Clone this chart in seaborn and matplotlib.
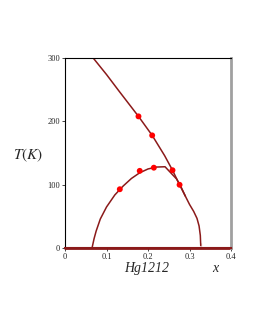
import pandas as pd
import seaborn as sns
import matplotlib.pyplot as plt

# measured points (Hg1212)
pts_x = [0.132, 0.177, 0.180, 0.210, 0.214, 0.259, 0.276]
pts_T = [93, 208, 122, 178, 127, 123, 100]

# upper line
upper_x = [0.068, 0.10, 0.13, 0.177, 0.21, 0.24, 0.259, 0.276, 0.29]
upper_T = [300, 274, 248, 208, 178, 146, 123, 100, 82]

# superconducting dome
dome_x = [0.065, 0.070, 0.075, 0.085, 0.10, 0.12, 0.14, 0.16, 0.18, 0.20, 0.22, 0.241,
          0.269, 0.28, 0.29, 0.30, 0.31, 0.318, 0.323, 0.326, 0.327, 0.327]
dome_T = [0, 15, 27, 46, 65, 84, 98, 110, 119, 125, 128, 128.5,
          109, 96, 82, 69, 58, 47, 35, 20, 8, 0]

# baseline T = 0
base_x = [0.0, 0.4]
base_T = [0, 0]

sns.set_style('white')
plt.rcParams['font.family'] = ['Liberation Serif', 'DejaVu Serif']
plt.rcParams['mathtext.fontset'] = 'stix'

fig = plt.figure(figsize=(2.55, 3.3), dpi=100)
ax = fig.add_axes([0.255, 0.248, 0.651, 0.576])

line_col = '#8b1a1a'
sns.lineplot(x=upper_x, y=upper_T, sort=False, color=line_col, lw=1.1, ax=ax)
sns.lineplot(x=dome_x, y=dome_T, sort=False, color=line_col, lw=1.1, ax=ax)
sns.lineplot(x=base_x, y=base_T, sort=False, color=line_col, lw=2.0, ax=ax, clip_on=False)
sns.scatterplot(x=pts_x, y=pts_T, color='#ff0000', s=18, edgecolor='none', ax=ax, zorder=5)

ax.set_xlim(0, 0.4)
ax.set_ylim(0, 300)
ax.set_xticks([0, 0.1, 0.2, 0.3, 0.4])
ax.set_xticklabels(['0', '0.1', '0.2', '0.3', '0.4'])
ax.set_yticks([0, 100, 200, 300])
ax.tick_params(labelsize=6, length=2, width=0.6, pad=1.5, direction='out',
               bottom=True, left=True)
for s in ['left', 'top']:
    ax.spines[s].set_color('black')
    ax.spines[s].set_linewidth(0.8)
ax.spines['right'].set_color('#a0a0a0')
ax.spines['right'].set_linewidth(2)
ax.spines['bottom'].set_color(line_col)
ax.spines['bottom'].set_linewidth(1.5)

fig.text(0.11, 0.53, r'$T(K)$', fontsize=11, ha='center', va='center')
fig.text(0.575, 0.185, 'Hg1212', fontsize=10, style='italic', ha='center', va='center')
fig.text(0.843, 0.185, 'x', fontsize=10, style='italic', ha='center', va='center')

fig.savefig('out.png', dpi=100)
